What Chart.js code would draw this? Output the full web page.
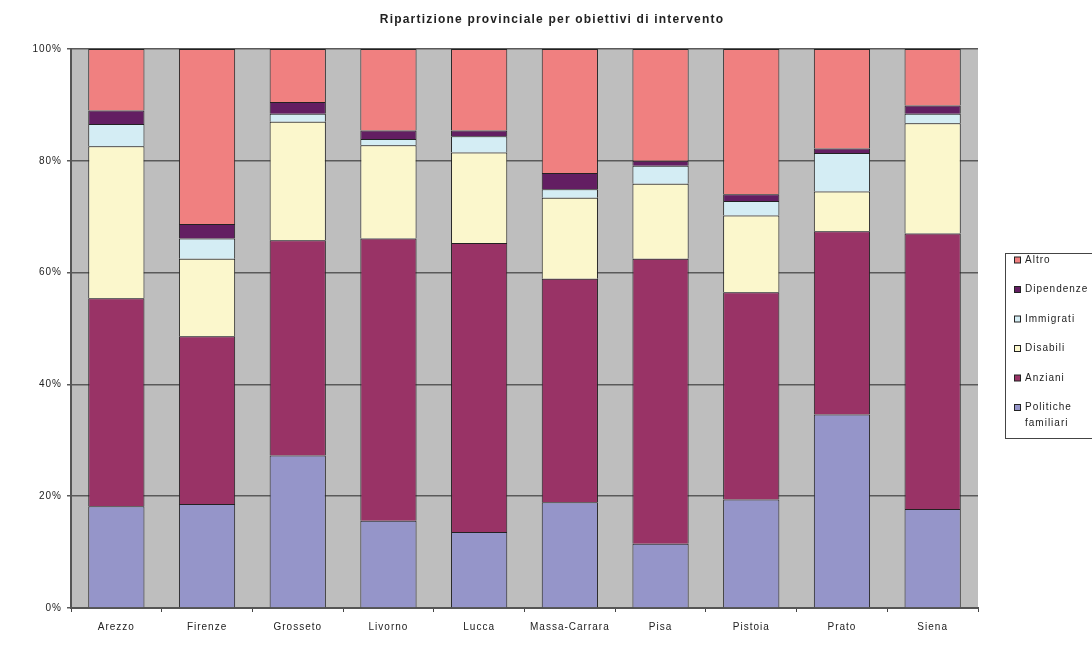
<!DOCTYPE html>
<html>
<head>
<meta charset="utf-8">
<script src="https://cdn.jsdelivr.net/npm/chart.js@4/dist/chart.umd.min.js"></script>
<style>
  html, body { margin: 0; padding: 0; background: #fff; overflow: hidden; }
</style>
</head>
<body>
<canvas id="graficoProvince" width="1092" height="645"></canvas>
<script>
// Province (categorie)
const province = ['Arezzo', 'Firenze', 'Grosseto', 'Livorno', 'Lucca', 'Massa-Carrara', 'Pisa', 'Pistoia', 'Prato', 'Siena'];

// Quote percentuali per obiettivo
const politicheFamiliari = [18.2, 18.6, 27.3, 15.6, 13.6, 18.9, 11.5, 19.4, 34.6, 17.7];
const anziani            = [37.2, 30.0, 38.5, 50.5, 51.7, 40.0, 51.0, 37.1, 32.8, 49.3];
const disabili           = [27.2, 13.9, 21.2, 16.7, 16.2, 14.5, 13.4, 13.7,  7.1, 19.7];
const immigrati          = [ 4.0,  3.6,  1.4,  1.1,  2.9,  1.5,  3.2,  2.6,  6.9,  1.7];
const dipendenze         = [ 2.4,  2.6,  2.1,  1.5,  1.0,  2.9,  0.9,  1.2,  0.8,  1.5];
const altro              = [11.0, 31.3,  9.5, 14.6, 14.6, 22.2, 20.0, 26.0, 17.8, 10.1];

const tickPercentuali = [0, 20, 40, 60, 80, 100];
const titolo = 'Ripartizione provinciale per obiettivi di intervento';

const FONT = '"Liberation Sans", Arial, sans-serif';

// Sfondo grigio, spaziatura lettere e titolo
const sfondoGrigio = {
    id: 'sfondoGrigio',
    beforeDraw(chart) {
        const { ctx, chartArea: a } = chart;
        ctx.letterSpacing = '1px';
        ctx.save();
        ctx.fillStyle = '#bebebe';
        ctx.fillRect(a.left, a.top, a.right - a.left, a.bottom - a.top);
        ctx.letterSpacing = '1.2px';
        ctx.fillStyle = '#222';
        ctx.font = 'bold 12px ' + FONT;
        ctx.textAlign = 'center';
        ctx.textBaseline = 'middle';
        ctx.fillText(titolo, 552, 20);
        ctx.restore();
    }
};

// Legenda disegnata a mano (ordine inverso, testo su due righe)
const legendaExcel = {
    id: 'legendaExcel',
    afterDraw(chart) {
        const ctx = chart.ctx;
        const x = 1005, y = 253, w = 100, h = 185;
        ctx.save();
        ctx.letterSpacing = '1px';
        ctx.fillStyle = '#888';
        ctx.fillRect(x + 1, y + 1, w, h);
        ctx.fillStyle = '#fff';
        ctx.fillRect(x, y, w, h);
        ctx.strokeStyle = '#444';
        ctx.lineWidth = 1;
        ctx.strokeRect(x + 0.5, y + 0.5, w, h);
        ctx.font = '10px ' + FONT;
        ctx.textBaseline = 'middle';
        const sets = chart.data.datasets.slice().reverse();
        sets.forEach((ds, i) => {
            const cy = 260 + i * 29.5;
            ctx.fillStyle = ds.backgroundColor;
            ctx.fillRect(1014.5, cy - 3, 6, 6);
            ctx.strokeStyle = '#222';
            ctx.strokeRect(1014.5, cy - 3, 6, 6);
            ctx.fillStyle = '#222';
            if (ds.label === 'Politiche familiari') {
                const righe = ds.label.split(' ');
                ctx.fillText(righe[0], 1025, cy);
                ctx.fillText(righe[1], 1025, cy + 16);
            } else {
                ctx.fillText(ds.label, 1025, cy);
            }
        });
        ctx.restore();
    }
};

function serie(label, data, colore) {
    return {
        label: label,
        data: data,
        backgroundColor: colore,
        borderColor: '#222',
        borderWidth: 1,
        categoryPercentage: 1,
        barPercentage: 0.62
    };
}

const ctx = document.getElementById('graficoProvince').getContext('2d');
const grafico = new Chart(ctx, {
    type: 'bar',
    data: {
        labels: province,
        datasets: [
            serie('Politiche familiari', politicheFamiliari, '#9595c9'),
            serie('Anziani', anziani, '#993366'),
            serie('Disabili', disabili, '#fbf7cc'),
            serie('Immigrati', immigrati, '#d4edf4'),
            serie('Dipendenze', dipendenze, '#631e62'),
            serie('Altro', altro, '#f08080')
        ]
    },
    options: {
        responsive: false,
        animation: false,
        devicePixelRatio: 1,
        layout: { padding: { left: 0, right: 114, top: 49, bottom: 0 } },
        plugins: {
            legend: { display: false },
            tooltip: { enabled: false },
            title: { display: false }
        },
        scales: {
            x: {
                stacked: true,
                grid: { offset: true, drawOnChartArea: false, drawTicks: true, tickLength: 4, color: '#444' },
                border: { color: '#555', width: 2 },
                ticks: {
                    color: '#222',
                    padding: 9,
                    maxRotation: 0,
                    autoSkip: false,
                    font: { family: FONT, size: 10 }
                },
                afterFit(scale) { scale.height = 37; }
            },
            y: {
                stacked: true,
                min: 0,
                max: 100,
                afterBuildTicks(scale) {
                    scale.ticks = tickPercentuali.map(v => ({ value: v }));
                },
                grid: { color: '#5a5a5a', lineWidth: 1.5, tickLength: 4 },
                border: { color: '#555', width: 2 },
                ticks: {
                    color: '#222',
                    padding: 5,
                    font: { family: FONT, size: 10 },
                    callback: v => v + '%'
                },
                afterFit(scale) { scale.width = 71; }
            }
        }
    },
    plugins: [sfondoGrigio, legendaExcel]
});
</script>
</body>
</html>
